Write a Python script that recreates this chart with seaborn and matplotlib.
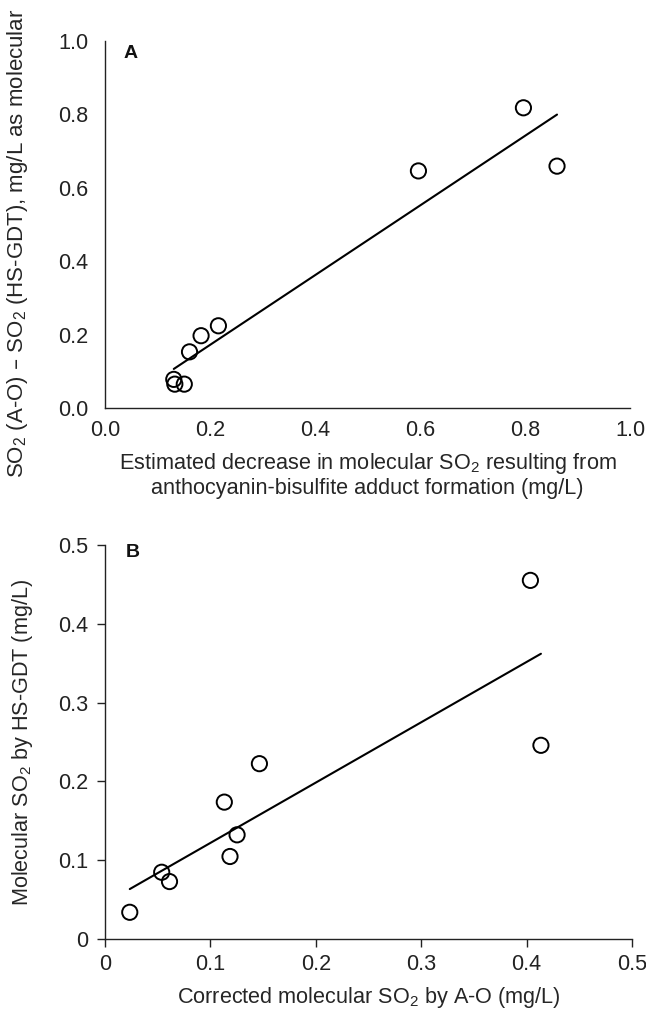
import numpy as np
import pandas as pd
import matplotlib
matplotlib.use("Agg")
import matplotlib.pyplot as plt
import seaborn as sns

# ---- data ----
a_x = [0.131, 0.133, 0.151, 0.161, 0.183, 0.216, 0.597, 0.797, 0.861]
a_y = [0.078, 0.065, 0.065, 0.153, 0.197, 0.224, 0.646, 0.818, 0.659]

b_x = [0.0235, 0.0538, 0.0612, 0.1132, 0.1186, 0.1253, 0.1465, 0.4036, 0.4136]
b_y = [0.0339, 0.0847, 0.0729, 0.1737, 0.1047, 0.1322, 0.2225, 0.4551, 0.2458]

a_ticks = [0.0, 0.2, 0.4, 0.6, 0.8, 1.0]
a_ticklabels = ["0.0", "0.2", "0.4", "0.6", "0.8", "1.0"]
b_ticks = [0.0, 0.1, 0.2, 0.3, 0.4, 0.5]
b_ticklabels = ["0", "0.1", "0.2", "0.3", "0.4", "0.5"]

a_xlabel = "Estimated decrease in molecular SO$_2$ resulting from\nanthocyanin-bisulfite adduct formation (mg/L)"
a_ylabel = "SO$_2$ (A-O) \u2013 SO$_2$ (HS-GDT), mg/L as molecular"
b_xlabel = "Corrected molecular SO$_2$ by A-O (mg/L)"
b_ylabel = "Molecular SO$_2$ by HS-GDT (mg/L)"

df_a = pd.DataFrame({"x": a_x, "y": a_y})
df_b = pd.DataFrame({"x": b_x, "y": b_y})

sns.set_theme(style="ticks")
plt.rcParams["font.family"] = ["Liberation Sans", "DejaVu Sans"]
plt.rcParams["mathtext.default"] = "regular"
plt.rcParams["axes.edgecolor"] = "#222222"
plt.rcParams["text.color"] = "#111111"
plt.rcParams["xtick.color"] = "#222222"
plt.rcParams["ytick.color"] = "#222222"

W, H = 646, 1010
fig = plt.figure(figsize=(W / 100, H / 100), dpi=100)

axA = fig.add_axes([105 / W, 1 - 408 / H, (630 - 105) / W, (408 - 41) / H])
axB = fig.add_axes([105 / W, 1 - 939 / H, (632 - 105) / W, (939 - 545) / H])

scat = dict(s=120, facecolors="none", linewidths=1.4, alpha=1, clip_on=False, zorder=3)
line = dict(color="black", lw=1.5)

sns.regplot(data=df_a, x="x", y="y", ax=axA, ci=None, color="black",
            scatter_kws=scat, line_kws=line)
sns.regplot(data=df_b, x="x", y="y", ax=axB, ci=None, color="black",
            scatter_kws=scat, line_kws=line)

fs = 15.6
for ax in (axA, axB):
    sns.despine(ax=ax)
    for s in ("left", "bottom"):
        ax.spines[s].set_linewidth(1.0)

axA.set_xlim(0, 1.0)
axA.set_ylim(0, 1.0)
axA.set_xticks(a_ticks)
axA.set_xticklabels(a_ticklabels)
axA.set_yticks(a_ticks)
axA.set_yticklabels(a_ticklabels)
axA.tick_params(axis="both", length=0, labelsize=fs)
axA.tick_params(axis="x", pad=8.5)
axA.tick_params(axis="y", pad=12)
axA.set_xlabel(a_xlabel, fontsize=fs, linespacing=1.12)
axA.set_ylabel(a_ylabel, fontsize=16)
axA.xaxis.set_label_coords(0.5, -0.117)
axA.yaxis.set_label_coords(-0.143, 0.45)
axA.text(0.048, 0.967, "A", transform=axA.transAxes, fontsize=14,
         fontweight="bold", ha="center", va="center")

axB.set_xlim(0, 0.5)
axB.set_ylim(0, 0.5)
axB.set_xticks(b_ticks)
axB.set_xticklabels(b_ticklabels)
axB.set_yticks(b_ticks)
axB.set_yticklabels(b_ticklabels)
axB.tick_params(axis="both", length=5.8, width=1.0, labelsize=fs, direction="out")
axB.tick_params(axis="x", pad=5)
axB.tick_params(axis="y", pad=6.5)
axB.set_xlabel(b_xlabel, fontsize=fs)
axB.set_ylabel(b_ylabel, fontsize=fs)
axB.xaxis.set_label_coords(0.5, -0.116)
axB.yaxis.set_label_coords(-0.133, 0.5)
axB.text(0.053, 0.982, "B", transform=axB.transAxes, fontsize=14,
         fontweight="bold", ha="center", va="center")

fig.savefig("out.png", dpi=100)
